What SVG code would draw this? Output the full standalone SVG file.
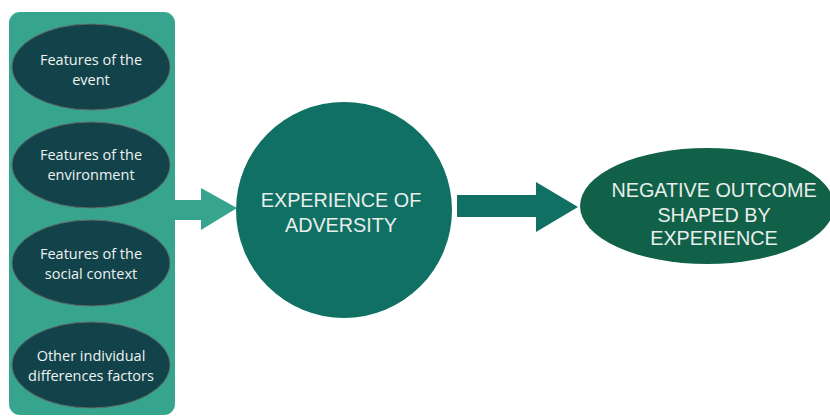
<svg xmlns="http://www.w3.org/2000/svg" width="830" height="417" viewBox="0 0 830 417">
  <style>
    .factor { fill: #12434a; stroke: #5f6a68; stroke-width: 1; }
    .small { font-family: "Open Sans", "Noto Sans", sans-serif; font-size: 14.5px; fill: #eef2f1; text-anchor: middle; }
    .big { font-family: "Liberation Sans", Arial, sans-serif; font-size: 19.8px; fill: #e9eeec; text-anchor: middle; }
  </style>
  <rect width="830" height="417" fill="#ffffff"/>

  <!-- panel holding the contributing factors -->
  <g id="factors-panel">
    <rect x="9" y="12" width="166" height="403" rx="11" fill="#37a58e"/>
  </g>

  <g id="factor-event">
    <ellipse class="factor" cx="91" cy="67" rx="79" ry="43"/>
    <text class="small" x="91" y="65">Features of the</text>
    <text class="small" x="91" y="85">event</text>
  </g>
  <g id="factor-environment">
    <ellipse class="factor" cx="91" cy="165" rx="79" ry="43"/>
    <text class="small" x="91" y="160">Features of the</text>
    <text class="small" x="91" y="180">environment</text>
  </g>
  <g id="factor-social">
    <ellipse class="factor" cx="91" cy="263" rx="79" ry="43"/>
    <text class="small" x="91" y="259">Features of the</text>
    <text class="small" x="91" y="279">social context</text>
  </g>
  <g id="factor-individual">
    <ellipse class="factor" cx="91" cy="365" rx="79" ry="43"/>
    <text class="small" x="91" y="361">Other individual</text>
    <text class="small" x="91" y="381">differences factors</text>
  </g>

  <!-- block arrows -->
  <g id="connectors">
    <polygon points="174,200 201,200 201,188 237,208 201,230 201,220 174,220" fill="#37a58e"/>
    <polygon points="457,195 536,195 536,182 578,207 536,232 536,217 457,217" fill="#107064"/>
  </g>

  <g id="adversity">
    <circle cx="344" cy="210" r="108" fill="#107064"/>
    <text class="big" x="341" y="207">EXPERIENCE OF</text>
    <text class="big" x="341" y="232">ADVERSITY</text>
  </g>

  <g id="outcome">
    <ellipse cx="707" cy="206" rx="127" ry="58" fill="#116149"/>
    <text class="big" x="714" y="197">NEGATIVE OUTCOME</text>
    <text class="big" x="714" y="222">SHAPED BY</text>
    <text class="big" x="714" y="245">EXPERIENCE</text>
  </g>
</svg>
